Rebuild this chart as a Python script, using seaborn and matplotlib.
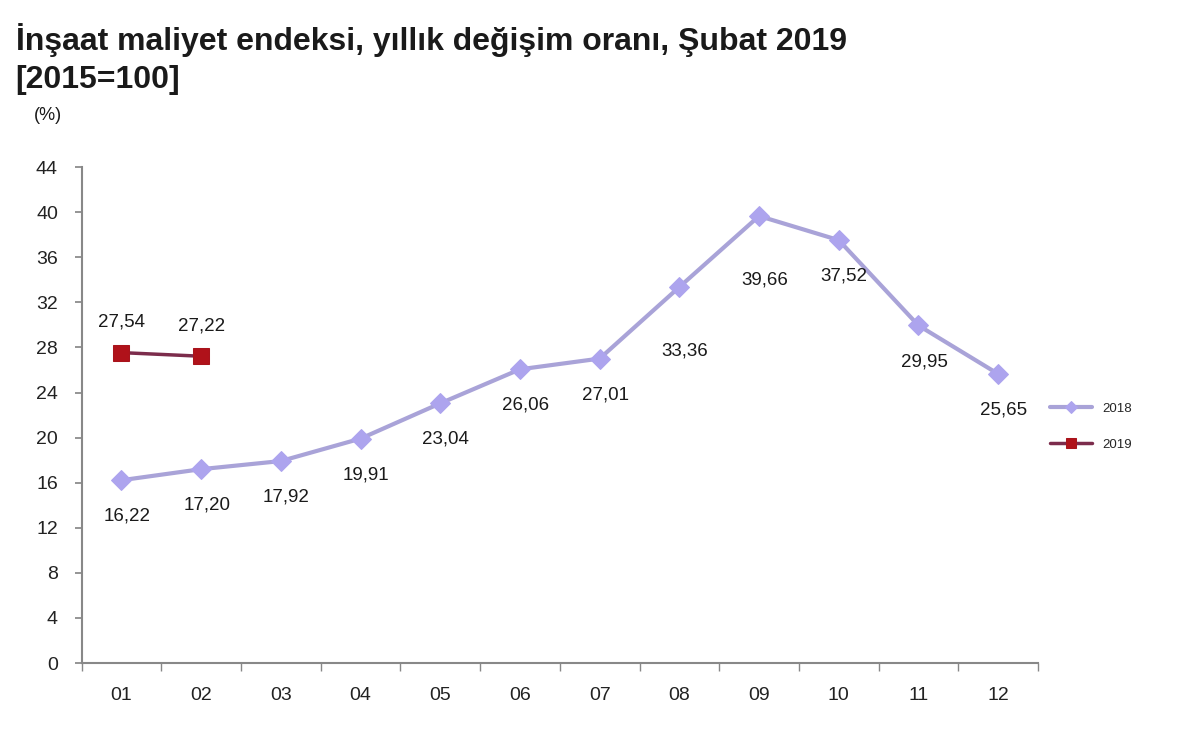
import matplotlib
matplotlib.use("Agg")
import matplotlib.pyplot as plt
import seaborn as sns
import pandas as pd
import numpy as np

months = ["01", "02", "03", "04", "05", "06", "07", "08", "09", "10", "11", "12"]
values_2018 = [16.22, 17.20, 17.92, 19.91, 23.04, 26.06, 27.01, 33.36, 39.66, 37.52, 29.95, 25.65]
values_2019 = [27.54, 27.22]
yticks = [0, 4, 8, 12, 16, 20, 24, 28, 32, 36, 40, 44]

sns.set_theme(style="white")
plt.rcParams['font.family'] = ['Liberation Sans', 'DejaVu Sans']

fig = plt.figure(figsize=(12, 7.48), dpi=100)
ax = fig.add_axes([0.068, 0.1136, 0.797, 0.663])

df18 = pd.DataFrame({"x": np.arange(len(values_2018)), "y": values_2018})
df19 = pd.DataFrame({"x": np.arange(len(values_2019)), "y": values_2019})

sns.lineplot(data=df18, x="x", y="y", ax=ax, color="#A9A3D8", linewidth=3,
             marker="D", markersize=10, markeredgecolor="#ADA4EE", markerfacecolor="#ADA4EE", label="2018")
sns.lineplot(data=df19, x="x", y="y", ax=ax, color="#7C2C4C", linewidth=2.5,
             marker="s", markersize=11, markeredgecolor="#A8141C", markerfacecolor="#B0121A", label="2019")

# data labels
off18 = [-26, -26, -26, -26, -26, -26, -26, -46, -46, -26, -26, -26]
for i, v in enumerate(values_2018):
    ax.annotate(f"{v:.2f}".replace(".", ","), (i, v), xytext=(4, off18[i]),
                textcoords="offset points", ha="center", va="center", fontsize=13.5, color="#1a1a1a")
for i, v in enumerate(values_2019):
    ax.annotate(f"{v:.2f}".replace(".", ","), (i, v), xytext=(0, 22),
                textcoords="offset points", ha="center", va="center", fontsize=13.5, color="#1a1a1a")

ax.set_xlim(-0.5, len(months) - 0.5)
ax.set_ylim(0, 44)
ax.set_yticks(yticks)
ax.set_yticklabels([str(t) for t in yticks], fontsize=14)
ax.set_xticks(np.arange(len(months)))
ax.set_xticklabels(months, fontsize=14)
ax.set_xticks(np.arange(-0.5, len(months)), minor=True)
ax.tick_params(axis="x", which="major", length=0, pad=17, colors="#222222")
ax.tick_params(axis="x", which="minor", length=6, color="#888888", direction="out", bottom=True)
ax.tick_params(axis="y", length=5, color="#888888", direction="out", left=True, pad=12, colors="#222222")
ax.set_xlabel("")
ax.set_ylabel("")

for s in ["top", "right"]:
    ax.spines[s].set_visible(False)
for s in ["left", "bottom"]:
    ax.spines[s].set_color("#888888")
    ax.spines[s].set_linewidth(1.5)

leg = ax.legend(loc="center left", bbox_to_anchor=(1.0, 0.476), frameon=False,
                fontsize=9.5, handlelength=3.2, labelspacing=1.8, markerscale=0.6)

fig.text(0.013, 0.947, "İnşaat maliyet endeksi, yıllık değişim oranı, Şubat 2019",
         fontsize=23, fontweight="bold", ha="left", va="center", color="#1a1a1a")
fig.text(0.013, 0.893, "[2015=100]", fontsize=23, fontweight="bold", ha="left", va="center", color="#1a1a1a")
fig.text(0.028, 0.845, "(%)", fontsize=13, ha="left", va="center", color="#1a1a1a")

fig.savefig("out.png", dpi=100)
